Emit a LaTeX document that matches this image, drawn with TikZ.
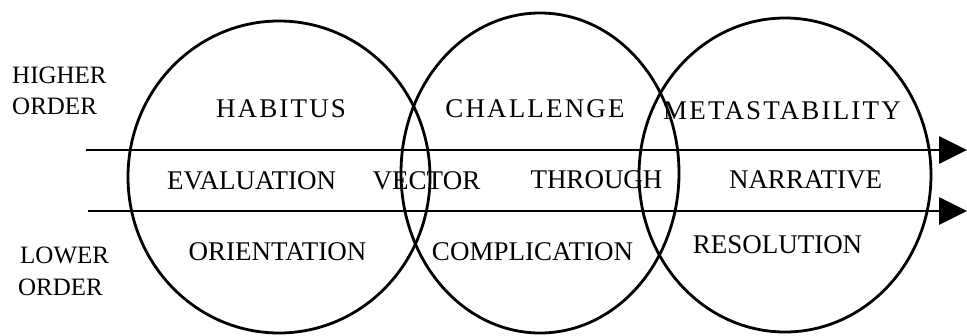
\documentclass[tikz,border=0pt]{standalone}
\usepackage{fontspec}
\setmainfont{Liberation Serif}
\usetikzlibrary{arrows.meta}
\begin{document}
\begin{tikzpicture}[x=1pt,y=-1pt,
  ring/.style={line width=2.8pt},
  flow/.style={line width=2.8pt,-{Triangle[length=28pt,width=27pt]}},
  lbl/.style={inner sep=0pt,anchor=base,font=\fontsize{27}{31}\selectfont},
  toplbl/.style={lbl,font=\fontsize{27}{31}\selectfont\addfontfeature{LetterSpace=8}},
  side/.style={inner sep=0pt,anchor=base west,font=\fontsize{25}{31}\selectfont}]
\useasboundingbox (0,0) rectangle (967,335);
% circles
\draw[ring] (279,177) ellipse [x radius=151pt, y radius=156pt];
\draw[ring] (540,173) ellipse [x radius=139pt, y radius=160pt];
\draw[ring] (785,175) ellipse [x radius=146pt, y radius=157pt];
% arrows
\coordinate (u1) at (86,150);
\coordinate (u2) at (967,150);
\coordinate (l1) at (88,211);
\coordinate (l2) at (967,211);
\draw[flow] (u1) -- (u2);
\draw[flow] (l1) -- (l2);
% side labels
\node[side] (hi) at (12,83) {HIGHER};
\node[side] (ho) at (12,114) {ORDER};
\node[side] (lo) at (20,263) {LOWER};
\node[side] (lo2) at (18,295) {ORDER};
% top row
\node[toplbl] (habitus) at (281,117) {HABITUS};
\node[toplbl] (challenge) at (535,117) {CHALLENGE};
\node[toplbl] (meta) at (782,119) {METASTABILITY};
% middle row
\node[lbl] (eval) at (251.5,189) {EVALUATION};
\node[lbl] (vector) at (426.5,189) {VECTOR};
\node[lbl] (through) at (596.5,188) {THROUGH};
\node[lbl] (narr) at (805.5,188) {NARRATIVE};
% bottom row
\node[lbl] (orient) at (277.5,260) {ORIENTATION};
\node[lbl] (compl) at (532.5,260) {COMPLICATION};
\node[lbl] (resol) at (777.5,253) {RESOLUTION};
\end{tikzpicture}
\end{document}
